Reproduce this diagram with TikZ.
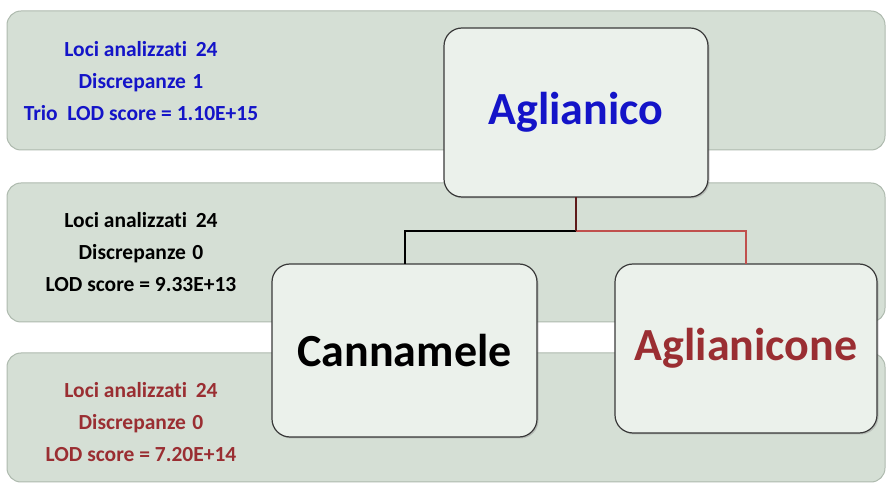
\documentclass[tikz,border=0pt]{standalone}
\usepackage{fontspec}
\setmainfont{Carlito}[Ligatures=CommonOff]
\usetikzlibrary{shadows}
\definecolor{bandfill}{HTML}{D5DFD5}
\definecolor{banddraw}{HTML}{AEBAAE}
\definecolor{boxfill}{HTML}{EBF1EB}
\definecolor{boxdraw}{HTML}{3A3A3A}
\definecolor{txtblue}{HTML}{1414C8}
\definecolor{txtred}{HTML}{9A2E32}
\definecolor{lnred}{HTML}{C0504D}
\definecolor{lndark}{HTML}{5E1A1A}
\tikzset{
  band/.style={draw=banddraw, fill=bandfill, line width=1pt, rounded corners=14pt,
    minimum width=878pt, inner sep=0pt, outer sep=0pt},
  bigbox/.style={draw=boxdraw, fill=boxfill, line width=1.2pt, rounded corners=18pt,
    inner sep=0pt, outer sep=0pt, font=\fontsize{46}{50}\selectfont\bfseries,
    drop shadow={shadow xshift=1.5pt, shadow yshift=-1.5pt, opacity=0.35}},
  info/.style={align=center, font=\fontsize{21.5}{32}\selectfont\bfseries, inner sep=0pt},
  conn/.style={line width=2pt}
}
\begin{document}
\begin{tikzpicture}[x=1pt,y=1pt]
\useasboundingbox[fill=white] (0,0) rectangle (887,485);
% bands
\node[band, minimum height=139pt] (b1) at (446,404.5) {};
\node[band, minimum height=139pt] (b2) at (446,232.5) {};
\node[band, minimum height=129pt] (b3) at (446,67.5) {};
% info texts
\node[info, text=txtblue] (t1) at (141,404) {Loci analizzati\hspace{0.4em}24\\ Discrepanze\hspace{0.3em}1\\ Trio\hspace{0.45em}LOD score = 1.10E+15};
\node[info, text=black] (t2) at (141,233) {Loci analizzati\hspace{0.4em}24\\ Discrepanze\hspace{0.3em}0\\ LOD score = 9.33E+13};
\node[info, text=txtred] (t3) at (141,63) {Loci analizzati\hspace{0.4em}24\\ Discrepanze\hspace{0.3em}0\\ LOD score = 7.20E+14};
% boxes
\node[bigbox, minimum width=264pt, minimum height=169pt, text=txtblue] (agl) at (576,372.5) {Aglianico};
\node[bigbox, minimum width=265pt, minimum height=173pt, text=black] (can) at (404.5,134.5) {Cannamele};
\node[bigbox, minimum width=262pt, minimum height=169pt, text=txtred] (agn) at (746,136.5) {Aglianicone};
% connectors
\coordinate (j) at (576,254);
\draw[conn, black] (j) -| (can.north);
\draw[conn, lnred] (j) -| (agn.north);
\draw[conn, lndark] (agl.south) -- (j);
\end{tikzpicture}
\end{document}
